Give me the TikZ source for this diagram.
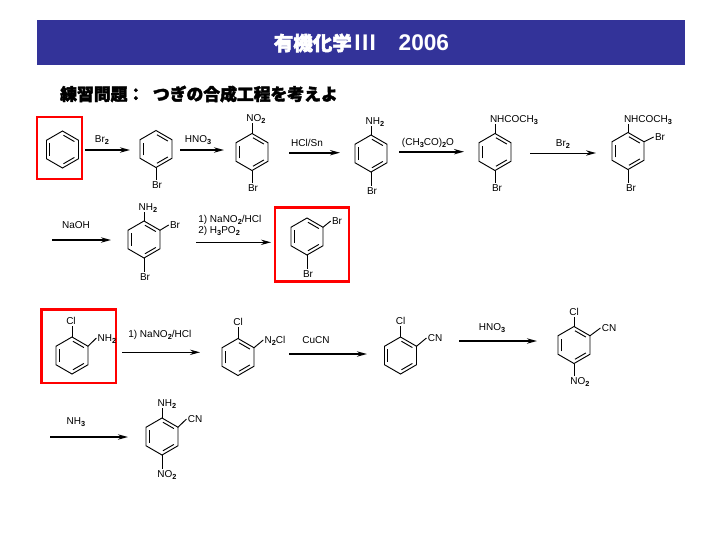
\documentclass[tikz,border=0pt]{standalone}
\usepackage{fontspec}
\setmainfont{Liberation Sans}
\newfontfamily\jpfont[BoldFeatures={FakeBold=2.5}]{Noto Sans CJK JP}
\usepackage{tikz}
\usetikzlibrary{arrows.meta,calc}

% subscript in the labels
\newcommand{\sbs}[1]{\raisebox{-0.35ex}{\fontsize{5.5pt}{6pt}\selectfont\bfseries #1}}
% ring: a top, then clockwise; c centre
\newcommand{\benzene}[3]{
    \path (#2,#3) coordinate (#1c)
        +(0,-18.5) coordinate (#1a) +(16,-9.25) coordinate (#1b) +(16,9.25) coordinate (#1d)
        +(0,18.5) coordinate (#1e) +(-16,9.25) coordinate (#1f) +(-16,-9.25) coordinate (#1g);
    \draw[ringline] (#1a)--(#1b)--(#1d)--(#1e)--(#1f)--(#1g)--cycle;
    \draw[innerline] ($(#1c)!0.8!(#1a)$)--($(#1c)!0.8!(#1b)$);
    \draw[innerline] ($(#1c)!0.8!(#1d)$)--($(#1c)!0.8!(#1e)$);
    \draw[innerline] ($(#1c)!0.8!(#1f)$)--($(#1c)!0.8!(#1g)$);
}

\begin{document}
\begin{tikzpicture}[x=0.75pt,y=-0.75pt]
    \definecolor{mybar}{RGB}{51,51,153}
    \definecolor{myred}{RGB}{255,0,0}

    \tikzstyle{ringline}=[line width=0.7pt,line join=miter]
    \tikzstyle{innerline}=[line width=0.7pt,shorten >=0.8pt,shorten <=0.8pt]
    \tikzstyle{chem}=[inner sep=0.8pt,text height=5.4pt,text depth=0pt,font=\fontsize{7.5pt}{8pt}\selectfont]
    \tikzstyle{redbox}=[draw=myred,line width=1.6pt]
    \tikzstyle{thickarrow}=[-{Stealth[length=7.5pt,width=4pt]},line width=1.3pt]
    \tikzstyle{thinarrow}=[-{Stealth[length=7.5pt,width=4pt]},line width=0.75pt]

    \useasboundingbox (0,0) rectangle (720,540);

    % title and question
    \fill[mybar] (37,20) rectangle (685,65);
    \node[text=white,font=\fontsize{17pt}{18pt}\selectfont\bfseries] (title) at (361.5,43) {{\jpfont\fontsize{14.6pt}{16pt}\selectfont 有機化学}\hspace{2pt}I\hspace{1pt}I\hspace{1pt}I\hspace{17pt}2006};
    \node[anchor=west,inner sep=0pt,font=\jpfont\fontsize{12.6pt}{14pt}\selectfont\bfseries] (quest) at (60,94) {練習問題：\hspace{6.5pt}つぎの合成工程を考えよ};

    % red frames
    \node[redbox,minimum width=33.75pt,minimum height=46.5pt,inner sep=0pt] (frameA) at (59.5,148) {};
    \node[redbox,minimum width=55.5pt,minimum height=55.5pt,inner sep=0pt] (frameB) at (312,244.5) {};
    \node[redbox,minimum width=55.9pt,minimum height=55.1pt,inner sep=0pt] (frameC) at (78.75,346.25) {};

    % rings
    \benzene{r1}{62.5}{149.5}
    \benzene{r2}{156}{149}
    \benzene{r3}{252}{152}
    \benzene{r4}{371}{153.5}
    \benzene{r5}{495}{152}
    \benzene{r6}{628}{151}
    \benzene{r7}{144}{239.5}
    \benzene{r8}{307}{236.5}
    \benzene{r9}{72}{355.5}
    \benzene{r10}{238}{357}
    \benzene{r11}{400.5}{355.5}
    \benzene{r12}{574}{345}
    \benzene{r13}{162}{436.5}

    % substituents
    \node[chem] (r2br) at (157,185) {Br};
    \node[chem] (r3no) at (256,118) {NO\sbs{2}};
    \node[chem] (r3br) at (253,188) {Br};
    \node[chem] (r4nh) at (375,121) {NH\sbs{2}};
    \node[chem] (r4br) at (372,191) {Br};
    \node[chem] (r5ac) at (514,119) {NHCOCH\sbs{3}};
    \node[chem] (r5br) at (497,188) {Br};
    \node[chem] (r6ac) at (648,119) {NHCOCH\sbs{3}};
    \node[chem] (r6bra) at (660,137) {Br};
    \node[chem] (r6brb) at (631,188) {Br};
    \node[chem] (r7nh) at (148,207) {NH\sbs{2}};
    \node[chem] (r7bra) at (175,225) {Br};
    \node[chem] (r7brb) at (145,277) {Br};
    \node[chem] (r8bra) at (337,221) {Br};
    \node[chem] (r8brb) at (308,274) {Br};
    \node[chem] (r9cl) at (71,321) {Cl};
    \node[chem] (r9nh) at (107,338) {NH\sbs{2}};
    \node[chem] (r10cl) at (238,322) {Cl};
    \node[chem] (r10nc) at (275,340) {N\sbs{2}Cl};
    \node[chem] (r11cl) at (400.5,321) {Cl};
    \node[chem] (r11cn) at (435,338) {CN};
    \node[chem] (r12cl) at (574,312) {Cl};
    \node[chem] (r12cn) at (609,328) {CN};
    \node[chem] (r12no) at (580,381) {NO\sbs{2}};
    \node[chem] (r13nh) at (167,403) {NH\sbs{2}};
    \node[chem] (r13cn) at (195,419) {CN};
    \node[chem] (r13no) at (167,474) {NO\sbs{2}};

    % bonds
    \draw[ringline] (r2e)--(r2e |- r2br.north);
    \draw[ringline] (r3a)--(r3a |- r3no.south);
    \draw[ringline] (r3e)--(r3e |- r3br.north);
    \draw[ringline] (r4a)--(r4a |- r4nh.south);
    \draw[ringline] (r4e)--(r4e |- r4br.north);
    \draw[ringline] (r5a)--(r5a |- r5ac.south);
    \draw[ringline] (r5e)--(r5e |- r5br.north);
    \draw[ringline] (r6a)--(r6a |- r6ac.south);
    \draw[ringline] (r6b)--(r6bra.west);
    \draw[ringline] (r6e)--(r6e |- r6brb.north);
    \draw[ringline] (r7a)--(r7a |- r7nh.south);
    \draw[ringline] (r7b)--(r7bra.west);
    \draw[ringline] (r7e)--(r7e |- r7brb.north);
    \draw[ringline] (r8b)--(r8bra.west);
    \draw[ringline] (r8e)--(r8e |- r8brb.north);
    \draw[ringline] (r9a)--(r9a |- r9cl.south);
    \draw[ringline] (r9b)--(r9nh.west);
    \draw[ringline] (r10a)--(r10a |- r10cl.south);
    \draw[ringline] (r10b)--(r10nc.west);
    \draw[ringline] (r11a)--(r11a |- r11cl.south);
    \draw[ringline] (r11b)--(r11cn.west);
    \draw[ringline] (r12a)--(r12a |- r12cl.south);
    \draw[ringline] (r12b)--(r12cn.west);
    \draw[ringline] (r12e)--(r12e |- r12no.north);
    \draw[ringline] (r13a)--(r13a |- r13nh.south);
    \draw[ringline] (r13b)--(r13cn.west);
    \draw[ringline] (r13e)--(r13e |- r13no.north);

    % arrow ends
    \coordinate (a1s) at (85,150);     \coordinate (a1e) at (130,150);
    \coordinate (a2s) at (180,150);    \coordinate (a2e) at (224,150);
    \coordinate (a3s) at (289,152.7);  \coordinate (a3e) at (340,152.7);
    \coordinate (a4s) at (399,151.7);  \coordinate (a4e) at (464,151.7);
    \coordinate (a5s) at (530,153);    \coordinate (a5e) at (596,153);
    \coordinate (a6s) at (52,240);     \coordinate (a6e) at (111,240);
    \coordinate (a7s) at (196,242.3);  \coordinate (a7e) at (271,242.3);
    \coordinate (a8s) at (122,352.3);  \coordinate (a8e) at (200,352.3);
    \coordinate (a9s) at (289,354);    \coordinate (a9e) at (367,354);
    \coordinate (a10s) at (459,341);   \coordinate (a10e) at (537,341);
    \coordinate (a11s) at (50,437);    \coordinate (a11e) at (128,437);

    \draw[thickarrow] (a1s)--(a1e);
    \draw[thickarrow] (a2s)--(a2e);
    \draw[thickarrow] (a3s)--(a3e);
    \draw[thickarrow] (a4s)--(a4e);
    \draw[thinarrow] (a5s)--(a5e);
    \draw[thickarrow] (a6s)--(a6e);
    \draw[thinarrow] (a7s)--(a7e);
    \draw[thinarrow] (a8s)--(a8e);
    \draw[thickarrow] (a9s)--(a9e);
    \draw[thickarrow] (a10s)--(a10e);
    \draw[thickarrow] (a11s)--(a11e);

    % reagents
    \node[chem] (a1t) at (102,139) {Br\sbs{2}};
    \node[chem] (a2t) at (198,139) {HNO\sbs{3}};
    \node[chem] (a3t) at (307,143) {HCl/Sn};
    \node[chem] (a4t) at (428,142) {(CH\sbs{3}CO)\sbs{2}O};
    \node[chem] (a5t) at (563,143) {Br\sbs{2}};
    \node[chem] (a6t) at (76,225) {NaOH};
    \node[chem,anchor=west] (a7t) at (197,219) {1) NaNO\sbs{2}/HCl};
    \node[chem,anchor=west] (a7u) at (197,230) {2) H\sbs{3}PO\sbs{2}};
    \node[chem,anchor=west] (a8t) at (127,334) {1) NaNO\sbs{2}/HCl};
    \node[chem] (a9t) at (316,340) {CuCN};
    \node[chem] (a10t) at (492,327) {HNO\sbs{3}};
    \node[chem] (a11t) at (76,421) {NH\sbs{3}};
\end{tikzpicture}
\end{document}
